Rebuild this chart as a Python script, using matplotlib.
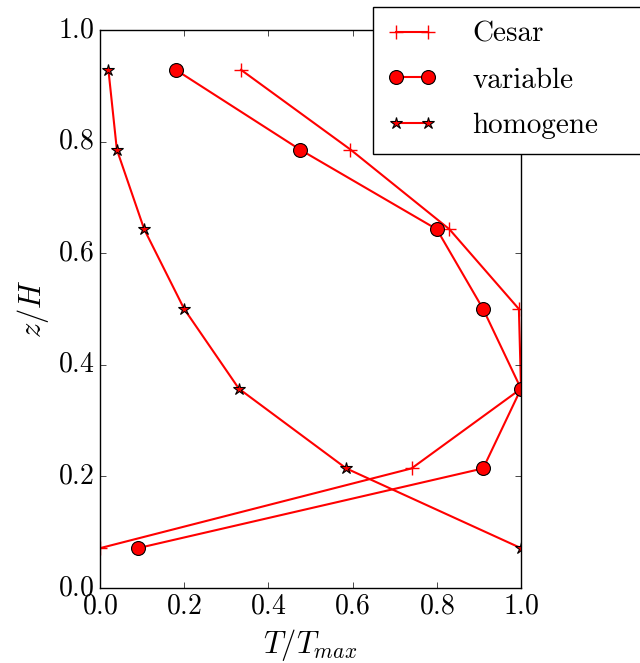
import numpy as np
import matplotlib
matplotlib.use('Agg')
import matplotlib.pyplot as plt

plt.style.use('classic')
plt.rcParams.update({
    'font.family': 'serif',
    'font.serif': ['cmr10'],
    'mathtext.fontset': 'cm',
    'axes.formatter.use_mathtext': True,
    'font.size': 20,
})

z = [0.0714, 0.2143, 0.3571, 0.5, 0.6429, 0.7857, 0.9286]
cesar = [0.0, 0.74, 1.0, 0.995, 0.83, 0.595, 0.335]
variable = [0.09, 0.91, 1.0, 0.91, 0.80, 0.475, 0.18]
homogene = [1.0, 0.585, 0.33, 0.2, 0.105, 0.04, 0.02]

fig = plt.figure(figsize=(6.4, 6.63), dpi=100, facecolor='white')
ax = fig.add_axes([100 / 640, 75 / 663, 421 / 640, 558 / 663])

ax.plot(cesar, z, 'r-+', lw=1.5, ms=10, mew=1, label='Cesar')
ax.plot(variable, z, 'r-o', lw=1.5, ms=10, mec='k', mew=0.8, label='variable')
ax.plot(homogene, z, 'r-*', lw=1.5, ms=9, mec='k', mew=0.8, label='homogene')

ax.set_xlim(0, 1)
ax.set_ylim(0, 1)
ax.set_xticks(np.arange(0, 1.01, 0.2))
ax.set_yticks(np.arange(0, 1.01, 0.2))
ax.set_xlabel(r'$T/T_{max}$', fontsize=22)
ax.set_ylabel(r'$z/H$', fontsize=22)

ax.legend(loc='upper left',
          bbox_to_anchor=(373 / 640, 1 - 7 / 663, 285 / 640, 0.0),
          bbox_transform=fig.transFigure, mode='expand', fontsize=21,
          borderaxespad=0, handlelength=1.7, labelspacing=0.66,
          borderpad=0.5, handletextpad=1.2)

fig.savefig('out.png', dpi=100, facecolor='white')
